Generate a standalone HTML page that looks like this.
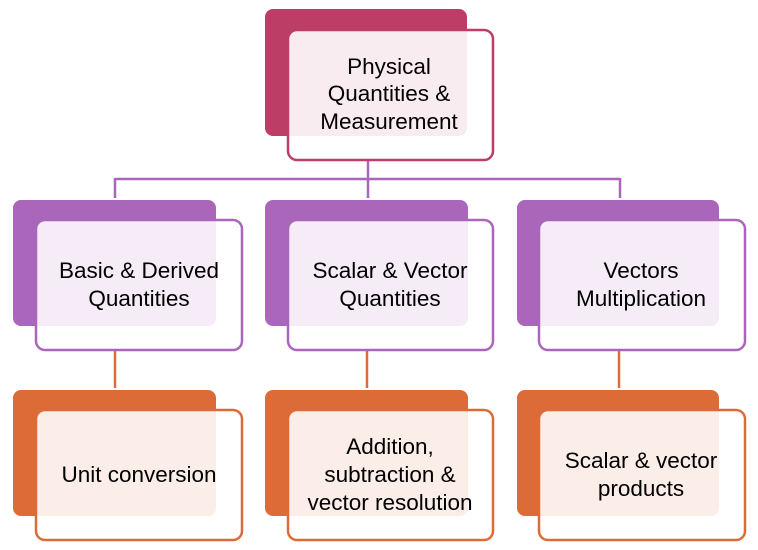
<!DOCTYPE html>
<html><head><meta charset="utf-8"><style>
html,body{margin:0;padding:0;background:#fff;}
svg{display:block;}
text{font-family:"Liberation Sans",sans-serif;font-size:22.5px;fill:#000;text-anchor:middle;}
</style></head><body>
<svg width="758" height="550" viewBox="0 0 758 550">
<g stroke="#A966BA" stroke-width="2.5" fill="none">
<line x1="368" y1="158" x2="368" y2="200"/>
<line x1="115" y1="179" x2="620" y2="179"/>
<line x1="115" y1="178" x2="115" y2="200"/>
<line x1="620" y1="178" x2="620" y2="200"/>
</g>
<g stroke="#DD6B38" stroke-width="2.5">
<line x1="115" y1="350" x2="115" y2="390"/>
<line x1="367" y1="350" x2="367" y2="390"/>
<line x1="619" y1="350" x2="619" y2="390"/>
</g>
<rect x="264" y="8" width="204" height="129" rx="9" fill="#BC3D66" stroke="#fff" stroke-width="2"/>
<rect x="288" y="30" width="205" height="130" rx="9" fill="rgba(255,255,255,0.9)" stroke="#BC3D66" stroke-width="2.5"/>
<text x="389" y="74">Physical</text>
<text x="389" y="101">Quantities &amp;</text>
<text x="389" y="129">Measurement</text>
<g fill="#A966BA" stroke="#fff" stroke-width="2">
<rect x="12" y="199" width="205" height="128" rx="9"/>
<rect x="264" y="199" width="205" height="128" rx="9"/>
<rect x="516" y="199" width="204" height="128" rx="9"/>
</g>
<g fill="rgba(255,255,255,0.88)" stroke="#A966BA" stroke-width="2.5">
<rect x="36" y="220" width="206" height="130" rx="9"/>
<rect x="288" y="220" width="205" height="130" rx="9"/>
<rect x="539" y="220" width="206" height="130" rx="9"/>
</g>
<text x="139" y="278">Basic &amp; Derived</text>
<text x="139" y="306">Quantities</text>
<text x="390" y="278">Scalar &amp; Vector</text>
<text x="390" y="306">Quantities</text>
<text x="641" y="278">Vectors</text>
<text x="641" y="306">Multiplication</text>
<g fill="#DD6B38" stroke="#fff" stroke-width="2">
<rect x="12" y="389" width="205" height="128" rx="9"/>
<rect x="264" y="389" width="205" height="128" rx="9"/>
<rect x="516" y="389" width="204" height="128" rx="9"/>
</g>
<g fill="rgba(255,255,255,0.88)" stroke="#DD6B38" stroke-width="2.5">
<rect x="36" y="410" width="206" height="130" rx="9"/>
<rect x="288" y="410" width="205" height="130" rx="9"/>
<rect x="539" y="410" width="206" height="130" rx="9"/>
</g>
<text x="139" y="482">Unit conversion</text>
<text x="390" y="454">Addition,</text>
<text x="390" y="482">subtraction &amp;</text>
<text x="390" y="510">vector resolution</text>
<text x="641" y="468">Scalar &amp; vector</text>
<text x="641" y="496">products</text>
</svg>
</body></html>
